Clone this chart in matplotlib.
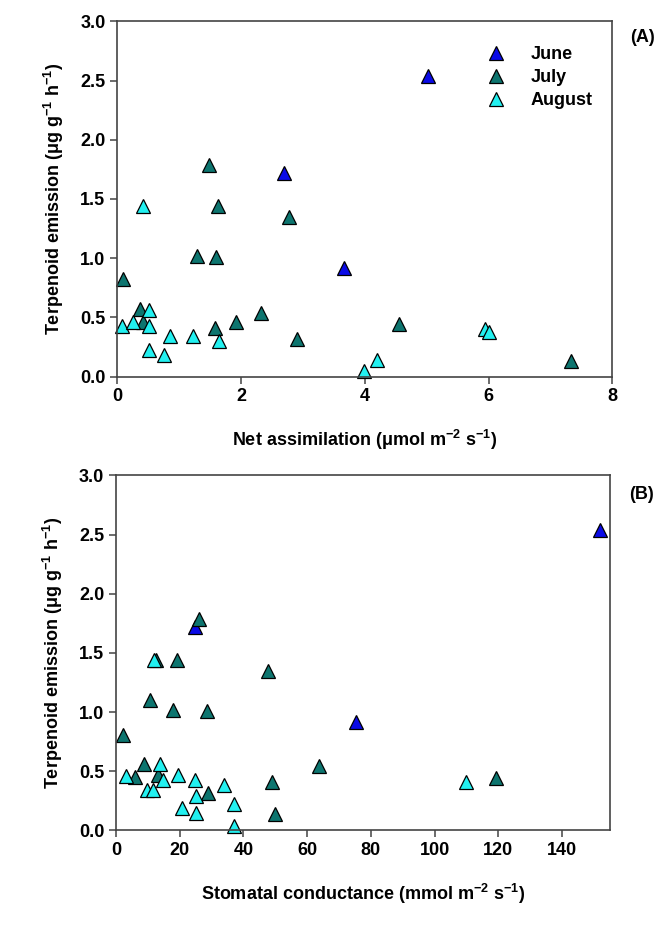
import matplotlib
matplotlib.use('Agg')
from matplotlib import pyplot as plt

plt.rcParams['font.family'] = ['Liberation Sans', 'DejaVu Sans']
plt.rcParams['font.weight'] = 'bold'
plt.rcParams['mathtext.fontset'] = 'custom'
plt.rcParams['mathtext.rm'] = 'Liberation Sans:bold'
plt.rcParams['mathtext.default'] = 'rm'

# panel A: net assimilation vs terpenoid emission
june_a_x = [5.02, 2.70, 3.66]
june_a_y = [2.54, 1.72, 0.92]
july_a_x = [0.09, 1.48, 1.63, 2.78, 1.29, 1.60, 0.36, 0.42, 1.58, 1.92, 2.33, 2.91, 4.56, 7.33]
july_a_y = [0.82, 1.79, 1.44, 1.35, 1.02, 1.01, 0.57, 0.46, 0.41, 0.46, 0.54, 0.32, 0.44, 0.13]
aug_a_x = [0.41, 0.07, 0.26, 0.52, 0.52, 0.52, 0.75, 0.85, 1.22, 1.64, 3.98, 4.19, 5.94, 6.00]
aug_a_y = [1.44, 0.43, 0.46, 0.56, 0.43, 0.22, 0.18, 0.34, 0.34, 0.30, 0.05, 0.14, 0.40, 0.38]

# panel B: stomatal conductance vs terpenoid emission
june_b_x = [24.7, 75.5, 152.0]
june_b_y = [1.72, 0.92, 2.54]
july_b_x = [26.1, 12.7, 19.1, 47.7, 10.8, 17.9, 28.6, 2.2, 8.7, 63.7, 6.1, 13.1, 48.9, 28.8, 49.8, 119.2]
july_b_y = [1.79, 1.44, 1.44, 1.35, 1.10, 1.02, 1.01, 0.81, 0.56, 0.54, 0.45, 0.47, 0.41, 0.32, 0.14, 0.44]
aug_b_x = [11.8, 13.9, 3.2, 14.7, 19.4, 24.8, 33.8, 9.7, 11.6, 25.1, 37.2, 20.7, 25.1, 37.0, 110.0]
aug_b_y = [1.44, 0.56, 0.46, 0.43, 0.47, 0.43, 0.38, 0.34, 0.34, 0.29, 0.22, 0.19, 0.15, 0.04, 0.41]

months = ['June', 'July', 'August']
colors = ['#0a0ae6', '#0d756f', '#22f0f0']
y_ticks = [0.0, 0.5, 1.0, 1.5, 2.0, 2.5, 3.0]
ylab = 'Terpenoid emission (\u03bcg g$^{-1}$ h$^{-1}$)'

fig = plt.figure(figsize=(6.55, 9.32), dpi=100)
ax1 = fig.add_axes([0.179, 0.596, 0.756, 0.381])
ax2 = fig.add_axes([0.177, 0.109, 0.754, 0.381])

def style(ax):
    for s in ax.spines.values():
        s.set_color('#444444')
        s.set_linewidth(1.2)
    ax.tick_params(direction='out', length=5, width=1.1, color='#444444',
                   labelsize=13, top=False, right=False)
    ax.set_ylim(0, 3.0)
    ax.set_yticks(y_ticks)
    ax.set_yticklabels(['%.1f' % v for v in y_ticks], fontweight='bold')
    ax.set_ylabel(ylab, fontsize=13, fontweight='bold', labelpad=10)

sets_a = [(june_a_x, june_a_y), (july_a_x, july_a_y), (aug_a_x, aug_a_y)]
for (xs, ys), lab, c in zip(sets_a, months, colors):
    ax1.plot(xs, ys, '^', ms=10.5, mfc=c, mec='black', mew=0.9, label=lab, clip_on=False)
ax1.set_xlim(0, 8)
ax1.set_xticks([0, 2, 4, 6, 8])
style(ax1)
ax1.set_xticklabels(['0', '2', '4', '6', '8'], fontweight='bold')
ax1.set_xlabel('Net assimilation (\u03bcmol m$^{-2}$ s$^{-1}$)', fontsize=13,
               fontweight='bold', labelpad=16)
leg = ax1.legend(loc='upper left', bbox_to_anchor=(0.71, 0.955), frameon=False,
                 fontsize=13, handletextpad=0.9, labelspacing=0.32, borderpad=0)
for t in leg.get_texts():
    t.set_fontweight('bold')
ax1.text(1.035, 0.955, '(A)', transform=ax1.transAxes, fontsize=13,
         fontweight='bold', ha='left', va='center')

sets_b = [(june_b_x, june_b_y), (july_b_x, july_b_y), (aug_b_x, aug_b_y)]
for (xs, ys), lab, c in zip(sets_b, months, colors):
    ax2.plot(xs, ys, '^', ms=10.5, mfc=c, mec='black', mew=0.9, label=lab, clip_on=False)
ax2.set_xlim(0, 155)
ax2.set_xticks(range(0, 141, 20))
style(ax2)
ax2.set_xticklabels([str(v) for v in range(0, 141, 20)], fontweight='bold')
ax2.set_xlabel('Stomatal conductance (mmol m$^{-2}$ s$^{-1}$)', fontsize=13,
               fontweight='bold', labelpad=16)
ax2.text(1.04, 0.945, '(B)', transform=ax2.transAxes, fontsize=13,
         fontweight='bold', ha='left', va='center')

fig.savefig('out.png', dpi=100)
